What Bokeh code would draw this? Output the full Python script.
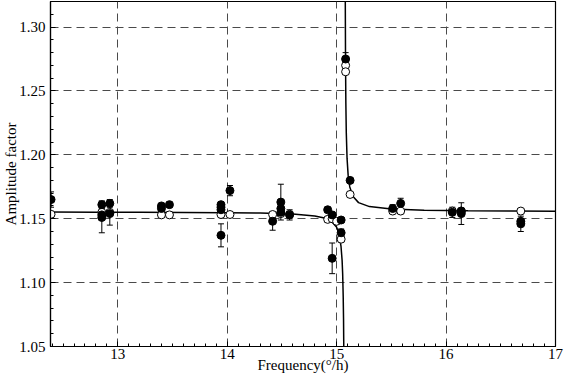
import numpy as np
from bokeh.plotting import figure
from bokeh.models import ColumnDataSource, Whisker, TeeHead, FixedTicker, NumeralTickFormatter, Range1d
from bokeh.embed import file_html
from bokeh.resources import INLINE

# ---- data ----
# observed amplitude factors (filled circles)
obs_freq = [12.39, 12.854, 12.854, 12.854, 12.927, 12.927, 13.399, 13.399, 13.472,
            13.943, 13.943, 13.943, 13.943, 14.025, 14.415, 14.49, 14.49, 14.49, 14.57,
            14.918, 14.959, 14.959, 15.041, 15.041, 15.082, 15.123, 15.512, 15.585,
            16.057, 16.139, 16.139, 16.683, 16.683]
obs_val = [1.165, 1.161, 1.153, 1.151, 1.162, 1.154, 1.160, 1.158, 1.161,
           1.161, 1.159, 1.157, 1.137, 1.172, 1.148, 1.163, 1.158, 1.155, 1.153,
           1.157, 1.153, 1.119, 1.149, 1.139, 1.275, 1.180, 1.158, 1.162,
           1.155, 1.156, 1.154, 1.148, 1.146]
obs_err = [0.006, 0.003, 0.003, 0.012, 0.003, 0.009, 0.002, 0.002, 0.002,
           0.002, 0.002, 0.002, 0.009, 0.004, 0.007, 0.014, 0.004, 0.003, 0.004,
           0.002, 0.002, 0.012, 0.002, 0.003, 0.005, 0.002, 0.003, 0.004,
           0.004, 0.002, 0.0085, 0.002, 0.006]

# theoretical amplitude factors (open circles)
th_freq = [12.39, 12.854, 12.927, 13.399, 13.472, 13.943, 14.025, 14.415, 14.49, 14.57,
           14.918, 14.959, 15.0, 15.041, 15.082, 15.082, 15.123, 15.512, 15.585,
           16.057, 16.139, 16.683]
th_val = [1.1535, 1.155, 1.155, 1.153, 1.153, 1.1533, 1.1533, 1.1533, 1.154, 1.1535,
          1.1495, 1.150, 1.148, 1.134, 1.270, 1.265, 1.169, 1.156, 1.156,
          1.156, 1.156, 1.156]
th_err = [0.002] * len(th_freq)

# resonance curve (two branches)
curve_left_f = [12.385, 12.8, 13.2, 13.6, 14.0, 14.3, 14.6, 14.8, 14.9, 14.95, 15.0,
                15.02, 15.04, 15.05, 15.055, 15.06, 15.063, 15.0645, 15.0655]
curve_left_v = [1.1552, 1.1551, 1.1550, 1.1548, 1.1547, 1.1544, 1.1537, 1.1522, 1.1503,
                1.1482, 1.1433, 1.1385, 1.1283, 1.1172, 1.1068, 1.0888, 1.0712, 1.0555, 1.0430]
curve_right_f = [15.0786, 15.079, 15.081, 15.084, 15.088, 15.095, 15.105, 15.12, 15.15,
                 15.2, 15.3, 15.5, 15.8, 16.2, 16.6, 17.0]
curve_right_v = [1.3300, 1.3200, 1.2755, 1.2412, 1.2176, 1.1974, 1.1841, 1.1749, 1.1673,
                 1.1626, 1.1595, 1.1576, 1.1567, 1.1562, 1.1560, 1.1558]

x_major = [13, 14, 15, 16, 17]
y_major = [1.05, 1.10, 1.15, 1.20, 1.25, 1.30]

FONT = "Liberation Serif"

p = figure(width=570, height=375, output_backend="svg", toolbar_location=None,
           x_range=Range1d(12.385, 17.0), y_range=Range1d(1.05, 1.32),
           min_border=0, min_border_top=1, min_border_right=15, min_border_left=41,
           background_fill_color="white", border_fill_color="white")
p.outline_line_color = "black"
p.outline_line_width = 1.2

# grid
p.xgrid.ticker = FixedTicker(ticks=[13, 14, 15, 16])
p.ygrid.ticker = FixedTicker(ticks=[1.10, 1.15, 1.20, 1.25, 1.30])
for g in (p.xgrid, p.ygrid):
    g.grid_line_color = "#4a4a4a"
    g.grid_line_dash = "8 5"
    g.grid_line_width = 1

# axes
p.xaxis.ticker = FixedTicker(ticks=x_major,
                             minor_ticks=list(np.round(np.arange(12.4, 17.0001, 0.1), 2)))
p.yaxis.ticker = FixedTicker(ticks=y_major,
                             minor_ticks=list(np.round(np.arange(1.05, 1.3201, 0.01), 2)))
p.xaxis.formatter = NumeralTickFormatter(format="0")
p.yaxis.formatter = NumeralTickFormatter(format="0.00")
for ax in (p.xaxis, p.yaxis):
    ax.axis_line_color = "black"
    ax.axis_line_width = 1.2
    ax.major_tick_in = 5
    ax.major_tick_out = 0
    ax.minor_tick_in = 3
    ax.minor_tick_out = 0
    ax.major_tick_line_color = "black"
    ax.minor_tick_line_color = "black"
    ax.major_label_text_font = FONT
    ax.major_label_text_font_size = "15px"
    ax.major_label_text_color = "black"
    ax.axis_label_text_font = FONT
    ax.axis_label_text_font_size = "15px"
    ax.axis_label_text_font_style = "normal"
    ax.axis_label_text_color = "black"
p.xaxis.axis_label = "Frequency(°/h)"
p.yaxis.axis_label = "Amplitude factor"
p.xaxis.major_label_standoff = 2
p.xaxis.axis_label_standoff = -5
p.yaxis.major_label_standoff = 5
p.yaxis.axis_label_standoff = -3

# curve
p.line(curve_left_f, curve_left_v, line_color="black", line_width=1.5)
p.line(curve_right_f, curve_right_v, line_color="black", line_width=1.5)

# theoretical points
th_src = ColumnDataSource(dict(x=th_freq, y=th_val,
                               lo=[v - e for v, e in zip(th_val, th_err)],
                               up=[v + e for v, e in zip(th_val, th_err)]))
p.add_layout(Whisker(source=th_src, base="x", lower="lo", upper="up",
                     line_color="black", line_width=1,
                     upper_head=TeeHead(size=6, line_color="black", line_width=1),
                     lower_head=TeeHead(size=6, line_color="black", line_width=1)))
p.scatter("x", "y", source=th_src, marker="circle", size=8,
          fill_color="white", line_color="black", line_width=1)

# observed points
obs_src = ColumnDataSource(dict(x=obs_freq, y=obs_val,
                                lo=[v - e for v, e in zip(obs_val, obs_err)],
                                up=[v + e for v, e in zip(obs_val, obs_err)]))
p.add_layout(Whisker(source=obs_src, base="x", lower="lo", upper="up",
                     line_color="black", line_width=1,
                     upper_head=TeeHead(size=6, line_color="black", line_width=1),
                     lower_head=TeeHead(size=6, line_color="black", line_width=1)))
p.scatter("x", "y", source=obs_src, marker="circle", size=8,
          fill_color="black", line_color="black", line_width=1)

open("out.html", "w").write(file_html(p, INLINE))
